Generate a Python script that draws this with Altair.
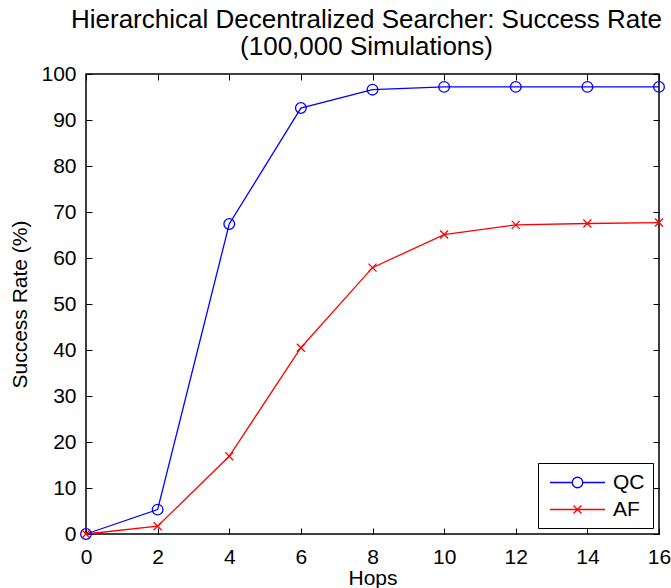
import altair as alt
import pandas as pd

hops = [0, 2, 4, 6, 8, 10, 12, 14, 16]
qc = [0, 5.3, 67.4, 92.6, 96.6, 97.2, 97.2, 97.2, 97.2]
af = [0, 1.7, 16.9, 40.5, 57.9, 65.1, 67.2, 67.5, 67.7]
series = ["QC", "AF"]
colors = ["#0000ff", "#ff0000"]
x_ticks = [0, 2, 4, 6, 8, 10, 12, 14, 16]
y_ticks = [0, 10, 20, 30, 40, 50, 60, 70, 80, 90, 100]
title_lines = ["Hierarchical Decentralized Searcher: Success Rate", "(100,000 Simulations)"]

df = pd.DataFrame({
    "Hops": hops + hops,
    "Rate": qc + af,
    "Series": ["QC"] * len(hops) + ["AF"] * len(hops),
})

FONT = "Liberation Sans"
TICK = 6

xs = alt.Scale(domain=[0, 16], nice=False, zero=False)
ys = alt.Scale(domain=[0, 100], nice=False, zero=False)
cs = alt.Scale(domain=series, range=colors)

CROSS = "M-0.8,-0.8L0.8,0.8M-0.8,0.8L0.8,-0.8"
# legend glyphs: line segment with marker (path units = 10.5 px)
QC_PATH = ("M-2.62,0L-0.5,0M0.5,0L2.62,0M0.5,0"
           "A0.5,0.5 0 1 1 -0.5,0A0.5,0.5 0 1 1 0.5,0")
AF_PATH = "M-2.62,0L2.62,0M-0.38,-0.38L0.38,0.38M-0.38,0.38L0.38,-0.38"

legend = alt.Legend(
    title=None, orient="bottom-right", offset=6, padding=8,
    strokeColor="black", fillColor="white", cornerRadius=0,
    symbolSize=441, symbolOffset=20, labelOffset=24, rowPadding=5,
    labelFontSize=21, labelFont=FONT, labelColor="black",
    symbolStrokeWidth=1.3, symbolOpacity=1, symbolFillColor="transparent",
)

axis_common = dict(tickSize=TICK, offset=-TICK, domain=False, tickColor="black",
                   tickWidth=1, labelFont=FONT, labelFontSize=21, labelColor="black",
                   titleFont=FONT, titleFontSize=21, titleColor="black",
                   titleFontWeight="normal", labelOverlap=False, labelFlush=False, grid=False)

base = alt.Chart(df)

lines = base.mark_line(strokeWidth=1.3).encode(
    x=alt.X("Hops:Q", scale=xs, axis=alt.Axis(values=x_ticks, orient="bottom", title="Hops",
                                              labelPadding=TICK + 6, titlePadding=0, **axis_common)),
    y=alt.Y("Rate:Q", scale=ys, axis=alt.Axis(values=y_ticks, orient="left", title="Success Rate (%)",
                                              labelPadding=TICK + 4, titlePadding=10, **axis_common)),
    color=alt.Color("Series:N", scale=cs, legend=None),
)

qc_points = base.mark_point(shape="circle", filled=False, strokeWidth=1.3, size=114, opacity=1).encode(
    x=alt.X("Hops:Q", scale=xs, axis=alt.Axis(values=x_ticks, orient="top", title=None,
                                              labels=False, **axis_common)),
    y=alt.Y("Rate:Q", scale=ys, axis=alt.Axis(values=y_ticks, orient="right", title=None,
                                              labels=False, **axis_common)),
    color=alt.Color("Series:N", scale=cs, legend=None),
).transform_filter(alt.datum.Series == "QC")

af_points = base.mark_point(shape=CROSS, filled=False, strokeWidth=1.3, size=100, opacity=1).encode(
    x=alt.X("Hops:Q", scale=xs, axis=None),
    y=alt.Y("Rate:Q", scale=ys, axis=None),
    color=alt.Color("Series:N", scale=cs, legend=None),
).transform_filter(alt.datum.Series == "AF")

legend_layer = base.mark_point(filled=False, size=0).encode(
    x=alt.X("Hops:Q", scale=xs, axis=None),
    y=alt.Y("Rate:Q", scale=ys, axis=None),
    color=alt.Color("Series:N", scale=cs, legend=legend),
    shape=alt.Shape("Series:N", scale=alt.Scale(domain=series, range=[QC_PATH, AF_PATH]), legend=legend),
)

chart = alt.layer(legend_layer, lines, qc_points, af_points).resolve_axis(
    x="independent", y="independent"
).resolve_legend(color="independent", shape="independent").properties(
    width=573, height=460,
    autosize=alt.AutoSizeParams(type="none"),
    padding={"left": 86, "top": 74, "right": 12, "bottom": 54},
    title=alt.Title(text=title_lines, font=FONT, fontSize=26, fontWeight="normal",
                    color="black", anchor="middle", offset=3, lineHeight=27, dx=-6),
    background="white",
).configure_view(stroke="black", strokeWidth=1.5)

chart.save("out.html", embed_options={"renderer": "svg", "actions": False})
